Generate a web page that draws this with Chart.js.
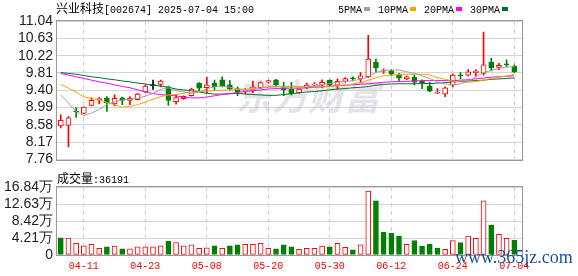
<!DOCTYPE html>
<html>
<head>
<meta charset="utf-8">
<script src="https://cdn.jsdelivr.net/npm/chart.js@4.4.1/dist/chart.umd.min.js"></script>
<style>
body{margin:0;background:#fff;width:578px;height:276px;overflow:hidden;position:relative}
#c1{position:absolute;left:0;top:0}
#c2{position:absolute;left:0;top:172px}
.t{position:absolute;white-space:nowrap;color:#000;line-height:14px}
.cjk{font-family:'Noto Sans CJK SC';font-size:12px}
.mono{font-family:'Liberation Mono';font-size:10px}
.sq{display:inline-block;width:6px;height:4px;margin:0 8px 1px 2px;vertical-align:middle}
#wm{position:absolute;left:455px;top:247px;font-family:'Liberation Serif';font-size:18px;color:#1d4f9e;white-space:nowrap}
</style>
</head>
<body>
<canvas id="c1" width="578" height="172"></canvas>
<canvas id="c2" width="578" height="104"></canvas>
<div class="t" style="left:56px;top:1px"><span class="cjk">兴业科技</span><span class="mono">[002674] 2025-07-04 15:00</span></div>
<div class="t" style="left:338px;top:1px"><span class="mono">5PMA</span><span class="sq" style="background:#a0a0a0"></span><span class="mono">10PMA</span><span class="sq" style="background:#f5a300"></span><span class="mono">20PMA</span><span class="sq" style="background:#ff00ff"></span><span class="mono">30PMA</span><span class="sq" style="background:#007030"></span></div>
<div class="t" style="left:57px;top:171px"><span class="cjk">成交量</span><span class="mono">:36191</span></div>
<div id="wm">www.365jz.com</div>
<script>
var dates = ['04-08','04-09','04-10','04-11','04-14','04-15','04-16','04-17','04-18','04-21',
  '04-22','04-23','04-24','04-25','04-28','04-29','04-30','05-06','05-07','05-08',
  '05-09','05-12','05-13','05-14','05-15','05-16','05-19','05-20','05-21','05-22',
  '05-23','05-26','05-27','05-28','05-29','05-30','06-03','06-04','06-05','06-06',
  '06-09','06-10','06-11','06-12','06-13','06-16','06-17','06-18','06-19','06-20',
  '06-23','06-24','06-25','06-26','06-27','06-30','07-01','07-02','07-03','07-04'];

var open = [8.56,8.57,8.90,8.85,9.04,9.18,9.21,9.08,9.22,9.16,
  9.18,9.36,9.51,9.54,9.48,9.13,9.20,9.27,9.57,9.46,
  9.57,9.65,9.53,9.44,9.38,9.40,9.46,9.59,9.65,9.46,
  9.43,9.34,9.46,9.52,9.52,9.64,9.52,9.61,9.68,9.67,
  9.72,10.06,9.85,9.86,9.76,9.67,9.71,9.62,9.50,9.33,
  9.31,9.52,9.75,9.76,9.82,9.80,10.06,9.94,10.02,9.97];
var high = [8.82,8.78,8.99,9.01,9.22,9.23,9.25,9.29,9.24,9.25,
  9.33,9.53,9.64,9.64,9.50,9.29,9.27,9.45,9.58,9.71,
  9.64,9.72,9.63,9.48,9.44,9.62,9.60,9.64,9.66,9.59,
  9.59,9.44,9.57,9.58,9.65,9.65,9.67,9.70,9.72,9.82,
  10.70,10.14,9.91,9.89,9.80,9.74,9.76,9.65,9.59,9.44,
  9.48,9.79,9.82,9.89,9.89,10.78,10.16,10.04,10.12,10.00];
var low = [8.51,8.06,8.76,8.84,9.03,9.08,8.90,9.03,9.06,9.06,
  9.17,9.35,9.42,9.48,9.04,9.07,9.19,9.26,9.38,9.34,
  9.40,9.48,9.40,9.27,9.32,9.34,9.44,9.57,9.48,9.27,
  9.29,9.33,9.44,9.49,9.46,9.49,9.43,9.59,9.62,9.58,
  9.70,9.84,9.80,9.74,9.62,9.65,9.53,9.44,9.37,9.32,
  9.25,9.48,9.67,9.74,9.73,9.76,9.86,9.89,9.96,9.82];
var close = [8.69,8.75,8.89,9.00,9.16,9.20,9.10,9.21,9.16,9.21,
  9.31,9.50,9.51,9.62,9.16,9.23,9.26,9.43,9.45,9.53,
  9.48,9.51,9.44,9.37,9.40,9.48,9.58,9.63,9.53,9.41,
  9.32,9.43,9.53,9.55,9.59,9.52,9.61,9.68,9.67,9.74,
  10.14,9.93,9.88,9.78,9.69,9.72,9.59,9.56,9.38,9.34,
  9.46,9.76,9.74,9.84,9.85,10.00,9.93,9.99,10.00,9.84];
var prevClose = 8.80;

// 成交量, 万手
var volume = [4.28,4.20,2.90,2.30,2.65,1.65,2.00,2.20,1.50,1.50,
  2.00,2.00,2.00,2.30,3.45,3.10,2.30,2.50,1.65,1.80,
  2.30,1.65,2.30,2.50,2.65,2.65,2.90,1.65,1.50,2.50,
  2.00,1.40,1.65,1.65,2.20,2.00,2.90,1.90,1.25,2.50,
  15.85,13.40,5.60,5.35,4.70,2.65,3.60,2.20,2.65,1.65,
  1.40,3.60,3.10,4.70,4.10,13.40,7.40,5.10,4.10,3.62];

var ma5 = [9.29,9.10,8.90,8.80,8.86,8.95,9.06,9.12,9.17,9.19,
  9.21,9.26,9.33,9.42,9.46,9.39,9.36,9.33,9.35,9.44,
  9.48,9.50,9.47,9.44,9.40,9.42,9.44,9.49,9.50,9.48,
  9.44,9.46,9.48,9.50,9.53,9.56,9.59,9.61,9.63,9.66,
  9.72,9.82,9.87,9.88,9.88,9.84,9.80,9.74,9.68,9.60,
  9.55,9.53,9.55,9.62,9.72,9.82,9.87,9.92,9.95,9.96];
var ma10 = [9.54,9.45,9.36,9.24,9.21,9.17,9.11,9.06,9.00,9.02,
  9.06,9.12,9.19,9.25,9.29,9.30,9.33,9.35,9.37,9.38,
  9.39,9.40,9.41,9.42,9.43,9.44,9.46,9.47,9.48,9.49,
  9.495,9.49,9.48,9.48,9.48,9.49,9.51,9.53,9.55,9.58,
  9.64,9.70,9.74,9.76,9.77,9.78,9.78,9.78,9.76,9.70,
  9.66,9.62,9.60,9.59,9.61,9.64,9.68,9.71,9.74,9.78];
var ma20 = [9.80,9.76,9.72,9.68,9.64,9.60,9.57,9.53,9.49,9.46,
  9.41,9.36,9.32,9.30,9.28,9.27,9.23,9.22,9.22,9.24,
  9.27,9.30,9.32,9.35,9.37,9.39,9.41,9.43,9.44,9.45,
  9.45,9.45,9.46,9.47,9.48,9.50,9.51,9.52,9.53,9.545,
  9.555,9.57,9.59,9.60,9.61,9.61,9.62,9.63,9.63,9.63,
  9.63,9.63,9.64,9.65,9.67,9.69,9.71,9.72,9.73,9.74];
var ma30 = [9.82,9.80,9.78,9.75,9.72,9.70,9.67,9.65,9.62,9.60,
  9.57,9.55,9.52,9.50,9.47,9.43,9.41,9.39,9.36,9.33,
  9.31,9.31,9.32,9.33,9.31,9.30,9.29,9.28,9.28,9.30,
  9.32,9.34,9.36,9.37,9.39,9.41,9.43,9.44,9.46,9.47,
  9.49,9.52,9.54,9.55,9.555,9.555,9.555,9.56,9.56,9.57,
  9.58,9.60,9.61,9.62,9.63,9.64,9.66,9.67,9.68,9.69];

var priceTicks = [7.76,8.17,8.58,8.99,9.40,9.81,10.22,10.63,11.04];
var volTicks = [0,4.21,8.42,12.63,16.84];
var labelIdx = [3,11,19,27,35,43,51,59];

var RED = '#ff0000', GREEN = '#008000';

function candleColor(i){
  if(close[i] > open[i]) return RED;
  if(close[i] < open[i]) return GREEN;
  return '#000';
}
function volUp(i){
  var p = i == 0 ? prevClose : close[i-1];
  return close[i] >= p;
}
function pts(arr){
  return arr.map(function(v,i){ return {x:i, y:v}; });
}
function maLine(label, arr, color){
  return {type:'line', label:label, data:pts(arr), borderColor:color, borderWidth:1,
    pointRadius:0, tension:0, order:1};
}

var frame = {
  id:'frame',
  afterDatasetsDraw: function(chart){
    var a = chart.chartArea, c = chart.ctx;
    c.save();
    c.strokeStyle = '#999';
    c.lineWidth = 1;
    c.strokeRect(Math.round(a.left)-0.5, Math.round(a.top)-0.5,
      Math.round(a.right-a.left)+1, Math.round(a.bottom-a.top)+1);
    c.restore();
  }
};

// faint site watermark behind the candles
var watermark = {
  id:'watermark',
  beforeDatasetsDraw: function(chart){
    var c = chart.ctx;
    c.save();
    c.font = 'italic bold 36px "Noto Sans CJK SC"';
    c.fillStyle = 'rgba(200,200,212,0.5)';
    c.textBaseline = 'alphabetic';
    c.fillText('东方财富', 236, 110);
    c.restore();
  }
};

function xScale(showLabels){
  return {
    type:'linear', min:-0.49, max:60, offset:false,
    afterBuildTicks: function(s){ s.ticks = labelIdx.map(function(v){ return {value:v}; }); },
    afterFit: function(s){ s.height = showLabels ? 21 : 0; },
    grid:{color:'#cccccc', drawTicks:false, offset:false},
    border:{display:false, dash:[4,4]},
    ticks:{display:showLabels, color:RED, padding:5, maxRotation:0, autoSkip:false,
      font:{family:'Liberation Mono', size:10},
      callback: function(v){ return dates[v]; }}
  };
}

function yScale(min, max, ticks, fmt){
  return {
    min:min, max:max,
    afterBuildTicks: function(s){ s.ticks = ticks.map(function(v){ return {value:v}; }); },
    afterFit: function(s){ s.width = 57; },
    grid:{color:'#d4d4d4', drawTicks:false},
    border:{display:false},
    ticks:{padding:4, color:'#222', autoSkip:false, font:{family:'Liberation Sans', size:14},
      callback: fmt}
  };
}

new Chart('c1', {
  type:'bar',
  data:{
    datasets:[
      maLine('5PMA', ma5, '#a0a0a0'),
      maLine('10PMA', ma10, '#f5a300'),
      maLine('20PMA', ma20, '#ff00ff'),
      maLine('30PMA', ma30, '#007030'),
      {
        label:'body',
        data: open.map(function(o,i){ return {x:i, y:[o, close[i]]}; }),
        backgroundColor: function(ctx){ var i = ctx.dataIndex; return close[i] > open[i] ? '#fff' : candleColor(i); },
        borderColor: function(ctx){ return candleColor(ctx.dataIndex); },
        borderWidth:1, borderSkipped:false, barThickness:5, minBarLength:1,
        grouped:false, order:5
      },
      {
        label:'wick',
        data: low.map(function(l,i){ return {x:i, y:[l, high[i]]}; }),
        backgroundColor: function(ctx){ return candleColor(ctx.dataIndex); },
        borderWidth:0, barThickness:1, grouped:false, order:6
      }
    ]
  },
  options:{
    responsive:false, animation:false,
    layout:{padding:{top:21, right:56, bottom:6, left:0}},
    plugins:{legend:{display:false}, tooltip:{enabled:false}},
    scales:{
      x: xScale(false),
      y: yScale(7.76, 11.04, priceTicks, function(v){ return v.toFixed(2); })
    }
  },
  plugins:[watermark, frame]
});

new Chart('c2', {
  type:'bar',
  data:{
    datasets:[{
      label:'成交量',
      data: pts(volume),
      backgroundColor: function(ctx){ return volUp(ctx.dataIndex) ? '#fff' : GREEN; },
      borderColor: function(ctx){ return volUp(ctx.dataIndex) ? RED : GREEN; },
      borderWidth:1, borderSkipped:false, barThickness:5, grouped:false
    }]
  },
  options:{
    responsive:false, animation:false,
    layout:{padding:{top:15, right:56, bottom:0, left:0}},
    plugins:{legend:{display:false}, tooltip:{enabled:false}},
    scales:{
      x: xScale(true),
      y: yScale(0, 16.84, volTicks, function(v){ return v === 0 ? '0' : v.toFixed(2) + '万'; })
    }
  },
  plugins:[frame]
});
</script>
</body>
</html>
